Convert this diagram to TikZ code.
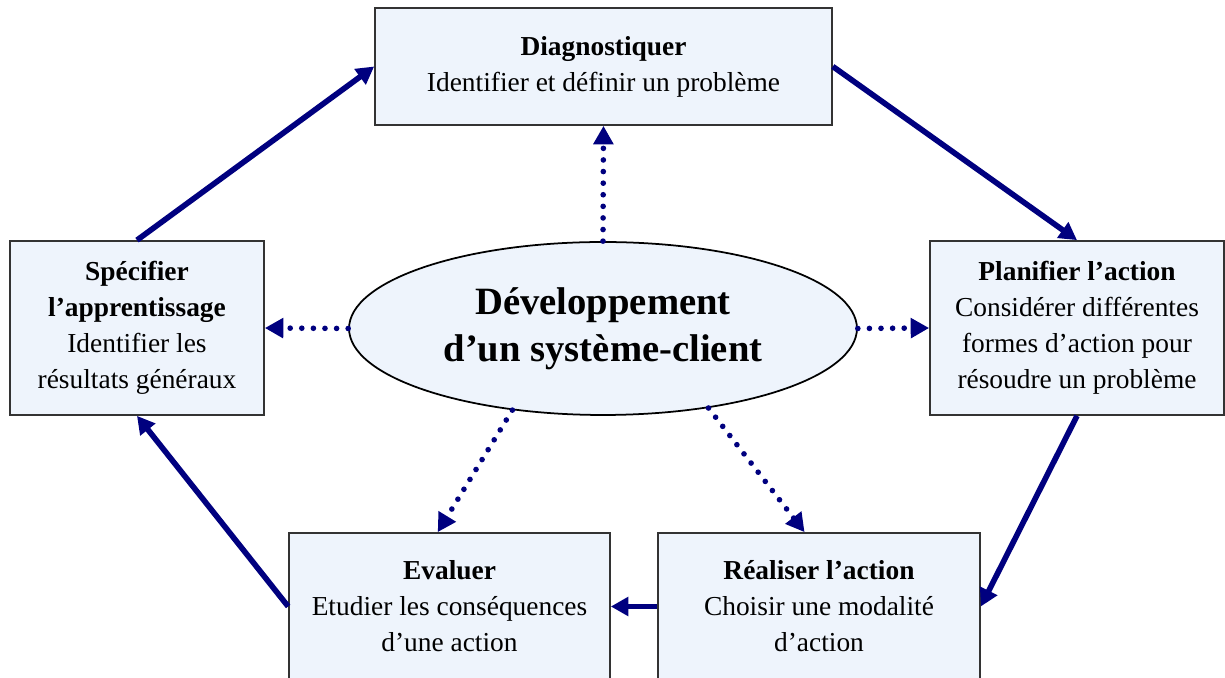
\documentclass[tikz,border=0pt]{standalone}
\usepackage{fontspec}
\setmainfont{Liberation Serif}
\usepackage{xcolor}
\usetikzlibrary{arrows.meta,shapes.geometric}
\definecolor{boxfill}{HTML}{EEF4FC}
\definecolor{boxline}{HTML}{333333}
\definecolor{navy}{HTML}{00007F}

\begin{document}
\begin{tikzpicture}[x=0.02cm, y=-0.02cm,
    stage/.style={draw=boxline, line width=1pt, fill=boxfill, rectangle,
      align=center, inner sep=0pt, font=\fontsize{15.6}{20.5}\selectfont},
    hub/.style={draw=black, line width=1pt, fill=boxfill, ellipse,
      align=center, inner sep=0pt, minimum width=10.16cm, minimum height=3.46cm,
      font=\fontsize{22}{27}\selectfont\bfseries},
    flowarrow/.style={draw=navy, line width=3.2pt,
      -{Triangle[length=10pt,width=10.5pt]}},
    linkarrow/.style={draw=navy, line width=3.2pt, line cap=round,
      dash pattern=on 0pt off 6.6pt, -{Triangle[length=10.5pt,width=11pt]}}]
    \useasboundingbox (0, 0) rectangle (1225, 678);

    % the hub
    \node[hub] (dev) at (603, 328.5) {D\'eveloppement\\d’un syst\`eme-client};

    % the five stages
    \node[stage, minimum width=9.14cm, minimum height=2.34cm] (diag) at (603.5, 66.5)
      {\textbf{Diagnostiquer}\\Identifier et définir un problème};
    \node[stage, minimum width=5.08cm, minimum height=3.48cm] (spec) at (137, 328)
      {\textbf{Spécifier}\\\textbf{l’apprentissage}\\Identifier les\\résultats généraux};
    \node[stage, minimum width=5.88cm, minimum height=3.48cm] (plan) at (1077, 328)
      {\textbf{Planifier l’action}\\Considérer différentes\\formes d’action pour\\résoudre un problème};
    \node[stage, minimum width=6.42cm, minimum height=2.94cm] (eval) at (449.5, 606.5)
      {\textbf{Evaluer}\\Etudier les conséquences\\d’une action};
    \node[stage, minimum width=6.44cm, minimum height=2.94cm] (real) at (819, 606.5)
      {\textbf{Réaliser l’action}\\Choisir une modalité\\d’action};

    % the cycle
    \draw[flowarrow] (spec.north) -- (diag.west);
    \draw[flowarrow] (diag.east) -- (plan.north);
    \draw[flowarrow] (plan.south) -- (real.east);
    \draw[flowarrow] (real.west) -- (eval.east);
    \draw[flowarrow] (eval.west) -- (spec.south);

    % links from the hub
    \draw[linkarrow] (dev.north) -- (diag.south);
    \draw[linkarrow] (dev.west) -- (spec.east);
    \draw[linkarrow] (dev.east) -- (plan.west);
    \draw[linkarrow] (dev.222) -- (eval.99);
    \draw[linkarrow] (dev.323) -- (real.101);
  \end{tikzpicture}
\end{document}
